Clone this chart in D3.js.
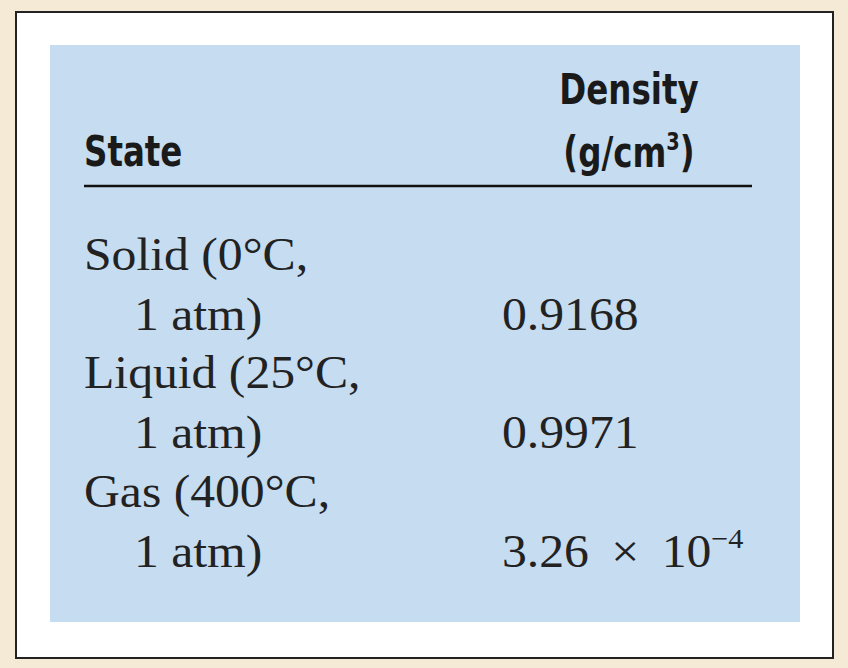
<!DOCTYPE html>
<html><head><meta charset="utf-8">
<script src="https://cdn.jsdelivr.net/npm/d3@7"></script>
<style>body{margin:0;background:#f4ead6;}</style>
</head><body>
<script>
var states = ["Solid (0°C,", "Liquid (25°C,", "Gas (400°C,"];
var conditions = ["1 atm)", "1 atm)", "1 atm)"];
var densities = ["0.9168", "0.9971", "3.26 \u2009×\u2009 10"];
var exponents = ["", "", "−4"];

var svg = d3.select("body").append("svg")
	.attr("width", 848).attr("height", 668);

svg.append("rect").attr("width", 848).attr("height", 668).attr("fill", "#f4ead6");
svg.append("rect").attr("x", 16).attr("y", 12).attr("width", 817).attr("height", 646)
	.attr("fill", "#fff").attr("stroke", "#222").attr("stroke-width", 2);
svg.append("rect").attr("x", 50).attr("y", 45).attr("width", 750).attr("height", 577)
	.attr("fill", "#c6dcf0");

var hdr = {"font-family": "DejaVu Sans Condensed, DejaVu Sans", "font-weight": "bold", "font-size": 42, "fill": "#1a1a1a"};
function attrs(sel, o) { for (var k in o) sel.attr(k, o[k]); return sel; }
// narrow the header glyphs a bit
function squeeze(x, y) { return "translate(" + x + "," + y + ") scale(0.86,1)"; }

attrs(svg.append("text").attr("transform", squeeze(84, 166)).text("State"), hdr);
attrs(svg.append("text").attr("transform", squeeze(629, 104)).attr("text-anchor", "middle").text("Density"), hdr);
var u = attrs(svg.append("text").attr("transform", squeeze(629, 167)).attr("text-anchor", "middle"), hdr);
u.append("tspan").text("(g/cm");
u.append("tspan").attr("font-size", 25).attr("dy", -17).text("3");
u.append("tspan").attr("dy", 17).text(")");

svg.append("line").attr("x1", 84).attr("x2", 752).attr("y1", 186).attr("y2", 186)
	.attr("stroke", "#111").attr("stroke-width", 2.5);

var y = d3.scaleBand().domain(d3.range(states.length)).range([210, 565]);
var serif = "Liberation Serif, DejaVu Serif, serif";
function wide(x, yy) { return "translate(" + x + "," + yy + ") scale(1.08,1)"; }

var rows = svg.selectAll("g.row").data(states).join("g").attr("class", "row")
	.attr("transform", function(d, i) { return "translate(0," + y(i) + ")"; })
	.attr("font-family", serif).attr("font-size", 46).attr("fill", "#222");

rows.append("text").attr("transform", wide(84, 60)).text(function(d) { return d; });
rows.append("text").attr("transform", wide(134, 120)).text(function(d, i) { return conditions[i]; });
var dv = rows.append("text").attr("transform", wide(502, 120));
dv.append("tspan").text(function(d, i) { return densities[i]; });
dv.append("tspan").attr("font-size", 28).attr("dy", -19).text(function(d, i) { return exponents[i]; });
</script>
</body></html>
